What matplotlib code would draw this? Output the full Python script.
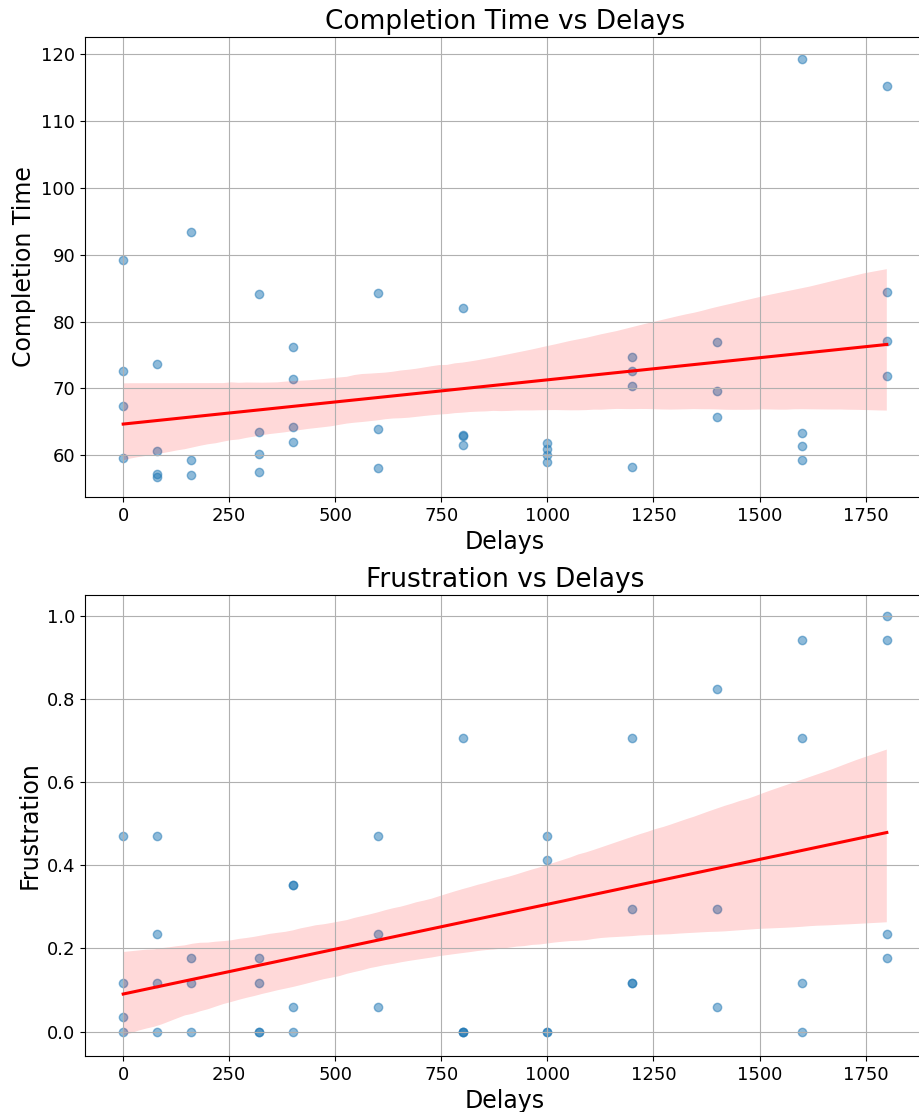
import matplotlib
matplotlib.use("Agg")
import matplotlib.pyplot as plt
import numpy as np
import pandas as pd
import seaborn as sns

# Delay levels and the measurements recorded at each level
delays = [0, 0, 0, 0,
          80, 80, 80, 80,
          160, 160, 160,
          320, 320, 320, 320,
          400, 400, 400, 400,
          600, 600, 600,
          800, 800, 800, 800,
          1000, 1000, 1000, 1000,
          1200, 1200, 1200, 1200,
          1400, 1400, 1400,
          1600, 1600, 1600, 1600,
          1800, 1800, 1800, 1800]

completion_time = [89.2, 72.6, 67.3, 59.6,
                   73.7, 60.6, 57.2, 56.8,
                   93.4, 59.3, 57.1,
                   84.1, 63.5, 60.2, 57.5,
                   76.2, 71.4, 64.2, 62.0,
                   84.2, 64.0, 58.1,
                   82.0, 63.0, 62.9, 61.5,
                   61.8, 60.9, 60.0, 59.0,
                   74.7, 72.6, 70.4, 58.3,
                   77.0, 69.6, 65.7,
                   119.3, 63.4, 61.4, 59.3,
                   115.2, 84.4, 77.1, 71.9]

frustration = [0.471, 0.118, 0.036, 0.0,
               0.471, 0.235, 0.118, 0.0,
               0.176, 0.118, 0.0,
               0.176, 0.118, 0.0, 0.0,
               0.353, 0.353, 0.059, 0.0,
               0.471, 0.235, 0.059,
               0.706, 0.0, 0.0, 0.0,
               0.471, 0.412, 0.0, 0.0,
               0.706, 0.294, 0.118, 0.118,
               0.824, 0.294, 0.059,
               0.941, 0.706, 0.118, 0.0,
               1.0, 0.941, 0.235, 0.176]

df = pd.DataFrame({"Delays": delays,
                   "Completion Time": completion_time,
                   "Frustration": frustration})

W, H = 919, 1112
fig = plt.figure(figsize=(W / 100, H / 100), dpi=100)

left = 85 / W
width = (925 - 85) / W
ax1 = fig.add_axes([left, 1 - 497 / H, width, (497 - 37) / H])
ax2 = fig.add_axes([left, 1 - 1056 / H, width, (1056 - 595) / H])

panels = [(ax1, "Completion Time", "Completion Time vs Delays", (53.77, 122.54)),
          (ax2, "Frustration", "Frustration vs Delays", (-0.0585, 1.05))]

for ax, col, title, ylim in panels:
    sns.regplot(data=df, x="Delays", y=col, ax=ax, seed=3,
                scatter_kws={"alpha": 0.5, "s": 36, "color": "#1f77b4"},
                line_kws={"color": "red", "linewidth": 2.2})
    ax.set_title(title, fontsize=19)
    ax.set_xlabel("Delays", fontsize=17)
    ax.set_ylabel(col, fontsize=17)
    ax.tick_params(labelsize=13)
    ax.grid(True)
    ax.set_xlim(-90, 1890)
    ax.set_ylim(*ylim)
    ax.spines["right"].set_visible(False)

ax1.set_yticks([60, 70, 80, 90, 100, 110, 120])
ax2.set_yticks([0.0, 0.2, 0.4, 0.6, 0.8, 1.0])

fig.savefig("out.png", dpi=100)
